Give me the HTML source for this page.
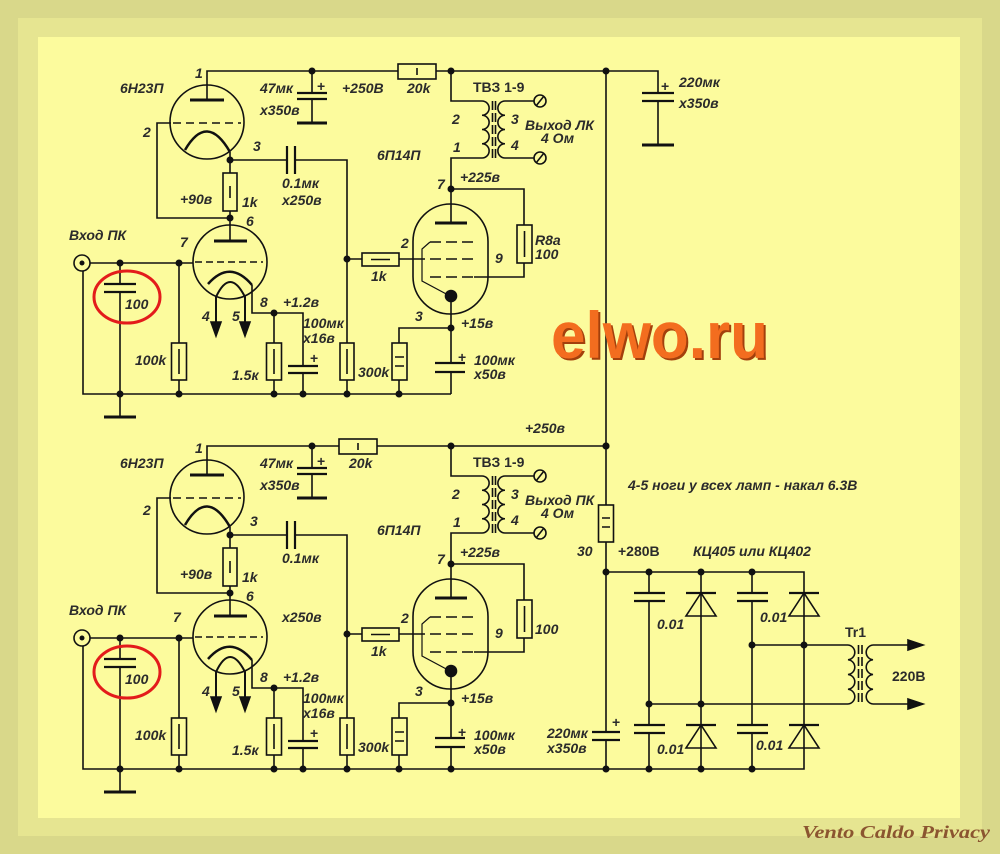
<!DOCTYPE html>
<html><head><meta charset="utf-8">
<style>
html,body{margin:0;padding:0;width:1000px;height:854px;overflow:hidden;background:#d9d88a}
svg{display:block}
text{font-family:"Liberation Sans","DejaVu Sans",sans-serif;font-weight:bold;font-style:italic;font-size:14px;fill:#2b2b2b}
text.u{font-style:normal}
</style></head><body>
<svg width="1000" height="854" viewBox="0 0 1000 854" xmlns="http://www.w3.org/2000/svg">
<rect width="1000" height="854" fill="#d9d88a"/>
<rect x="18" y="18" width="964" height="818" fill="#e6e591"/>
<rect x="38" y="37" width="922" height="781" fill="#fcfb9d"/>
<defs>
<g id="sec" stroke="#111" stroke-width="1.6" fill="none">
 <path d="M207,100 V71 H606"/>
 <path d="M312,71 V93 M312,99 V123"/>
 <path d="M297,93 H327 M297,99 H327" stroke-width="2.2"/>
 <path d="M297,123 H327" stroke-width="3"/>
 <circle cx="207" cy="122" r="37"/>
 <path d="M190,100 H224" stroke-width="3"/>
 <path d="M171,123 H157 V218 H230"/>
 <path d="M173,123 H241" stroke-dasharray="8,5"/>
 <path d="M185,150 Q207,112 230,152" stroke-width="2.5"/>
 <path d="M230,152 V218"/>
 <path d="M230,160 H287 M295,160 H347 V394"/>
 <path d="M287,146 V174 M295,146 V174" stroke-width="2.2"/>
 <rect x="223" y="173" width="14" height="38" fill="#fcfb9d"/>
 <path d="M230,186 V198"/>
 <path d="M230,218 V241"/>
 <circle cx="230" cy="262" r="37"/>
 <path d="M214,241 H247" stroke-width="3"/>
 <path d="M90,263 H193"/>
 <path d="M195,262 H263" stroke-dasharray="7,4"/>
 <path d="M208,284 Q230,259 252,285" stroke-width="2.5"/>
 <path d="M252,285 V313 H303 V366"/>
 <path d="M216,323 V297 Q230,267 245,297 V323" stroke-width="2"/>
 <polygon points="211,322 221,322 216,336" fill="#111"/>
 <polygon points="240,322 250,322 245,336" fill="#111"/>
 <circle cx="82" cy="263" r="8" fill="#fcfb9d"/>
 <circle cx="82" cy="263" r="2.5" fill="#111" stroke="none"/>
 <path d="M83,271 V394 H451"/>
 <path d="M120,263 V284 M120,292 V417"/>
 <path d="M104,284 H136 M104,292 H136" stroke-width="2.2"/>
 <path d="M104,417 H136" stroke-width="3"/>
 <ellipse cx="127" cy="297" rx="33" ry="26" stroke="#e31b1b" stroke-width="3"/>
 <path d="M179,263 V394"/>
 <rect x="171.5" y="343" width="15" height="37" fill="#fcfb9d"/>
 <path d="M179,349 V374"/>
 <path d="M274,313 V394"/>
 <rect x="266.5" y="343" width="15" height="37" fill="#fcfb9d"/>
 <path d="M274,349 V374"/>
 <path d="M303,373 V394"/>
 <path d="M288,366 H318 M288,373 H318" stroke-width="2.2"/>
 <rect x="340" y="343" width="14" height="37" fill="#fcfb9d"/>
 <path d="M347,349 V374"/>
 <path d="M347,259 H425"/>
 <rect x="362" y="253" width="37" height="13" fill="#fcfb9d"/>
 <path d="M371,259.5 H390"/>
 <rect x="413" y="204" width="75" height="110" rx="37.5" ry="37.5"/>
 <path d="M435,223 H467" stroke-width="3"/>
 <path d="M482,158 H451 V223"/>
 <path d="M430,242 H474 M430,259 H474 M430,277 H474" stroke-dasharray="11,5"/>
 <path d="M474,277 H524 V263"/>
 <path d="M450,296 L422,281 V249 L430,242" stroke-width="1.2"/>
 <circle cx="451" cy="296" r="5.5" fill="#111"/>
 <path d="M451,296 V363 M451,372 V394"/>
 <path d="M451,189 H524 V225"/>
 <rect x="517" y="225" width="15" height="38" fill="#fcfb9d"/>
 <path d="M524.5,231 V257"/>
 <path d="M451,328 H399 V394"/>
 <rect x="392" y="343" width="15" height="37" fill="#fcfb9d"/>
 <path d="M395,357 H404 M395,366 H404"/>
 <path d="M435,363 H465 M435,372 H465" stroke-width="2.2"/>
 <path d="M451,71 V101 H482"/>
 <path d="M482,101 a7,7 0 0 1 0,14.25 a7,7 0 0 1 0,14.25 a7,7 0 0 1 0,14.25 a7,7 0 0 1 0,14.25"/>
 <path d="M492.5,101 V158 M495.5,101 V158" stroke-dasharray="9,3"/>
 <path d="M505,101 a7,7 0 0 0 0,14.25 a7,7 0 0 0 0,14.25 a7,7 0 0 0 0,14.25 a7,7 0 0 0 0,14.25"/>
 <path d="M505,101 H534 M505,158 H534"/>
 <circle cx="540" cy="101" r="6" fill="#fcfb9d"/>
 <circle cx="540" cy="158" r="6" fill="#fcfb9d"/>
 <path d="M536,106 L544,96 M536,163 L544,153"/>
 <g fill="#111" stroke="none">
  <circle cx="312" cy="71" r="3.5"/><circle cx="451" cy="71" r="3.5"/><circle cx="606" cy="71" r="3.5"/>
  <circle cx="230" cy="160" r="3.5"/><circle cx="230" cy="218" r="3.5"/>
  <circle cx="120" cy="263" r="3.5"/><circle cx="179" cy="263" r="3.5"/>
  <circle cx="347" cy="259" r="3.5"/><circle cx="274" cy="313" r="3.5"/>
  <circle cx="451" cy="189" r="3.5"/><circle cx="451" cy="328" r="3.5"/>
  <circle cx="120" cy="394" r="3.5"/><circle cx="179" cy="394" r="3.5"/>
  <circle cx="274" cy="394" r="3.5"/><circle cx="303" cy="394" r="3.5"/>
  <circle cx="347" cy="394" r="3.5"/><circle cx="399" cy="394" r="3.5"/>
 </g>
</g>
</defs>
<use href="#sec"/>
<use href="#sec" transform="translate(0,375)"/>

<g stroke="#111" stroke-width="1.6" fill="none">
 <rect x="398" y="64" width="38" height="15" fill="#fcfb9d"/>
 <path d="M417,68 V75"/>
 <rect x="339" y="439" width="38" height="15" fill="#fcfb9d"/>
 <path d="M358,443 V450"/>
 <path d="M606,71 H658 V93 M658,101 V145"/>
 <path d="M642,93 H674 M642,101 H674" stroke-width="2.2"/>
 <path d="M642,145 H674" stroke-width="3"/>
 <path d="M606,71 V732 M606,740 V769"/>
 <path d="M592,732 H620 M592,740 H620" stroke-width="2.2"/>
 <rect x="598.5" y="505" width="15" height="37" fill="#fcfb9d"/>
 <path d="M602,518 H610 M602,527 H610"/>
 <path d="M451,769 H804 V572 H606"/>
 <path d="M649,572 V593 M649,601 V725 M649,733 V769"/>
 <path d="M752,572 V593 M752,601 V725 M752,733 V769"/>
 <path d="M634,593 H665 M634,601 H665 M634,725 H665 M634,733 H665" stroke-width="2.2"/>
 <path d="M737,593 H768 M737,601 H768 M737,725 H768 M737,733 H768" stroke-width="2.2"/>
 <path d="M701,572 V769"/>
 <path d="M701,593 L686,616 H716 Z M701,725 L686,748 H716 Z"/>
 <path d="M804,593 L789,616 H819 Z M804,725 L789,748 H819 Z"/>
 <path d="M686,593 H716 M686,725 H716 M789,593 H819 M789,725 H819" stroke-width="2.2"/>
 <path d="M649,704 H848 M752,645 H848"/>
 <path d="M848,645 a7.4,7.4 0 0 1 0,14.75 a7.4,7.4 0 0 1 0,14.75 a7.4,7.4 0 0 1 0,14.75 a7.4,7.4 0 0 1 0,14.75"/>
 <path d="M858.5,645 V704 M862,645 V704" stroke-dasharray="9,3"/>
 <path d="M873,645 a7.4,7.4 0 0 0 0,14.75 a7.4,7.4 0 0 0 0,14.75 a7.4,7.4 0 0 0 0,14.75 a7.4,7.4 0 0 0 0,14.75"/>
 <path d="M873,645 H912 M873,704 H912"/>
 <polygon points="908,640 923,645 908,650" fill="#111"/>
 <polygon points="908,699 923,704 908,709" fill="#111"/>
 <g fill="#111" stroke="none">
  <circle cx="606" cy="446" r="3.5"/><circle cx="451" cy="769" r="3.5"/>
  <circle cx="606" cy="769" r="3.5"/><circle cx="649" cy="769" r="3.5"/>
  <circle cx="701" cy="769" r="3.5"/><circle cx="752" cy="769" r="3.5"/>
  <circle cx="606" cy="572" r="3.5"/><circle cx="649" cy="572" r="3.5"/>
  <circle cx="701" cy="572" r="3.5"/><circle cx="752" cy="572" r="3.5"/>
  <circle cx="649" cy="704" r="3.5"/><circle cx="701" cy="704" r="3.5"/>
  <circle cx="752" cy="645" r="3.5"/><circle cx="804" cy="645" r="3.5"/>
 </g>
</g>

<g>
<text x="195" y="78">1</text>
<text x="120" y="93">6Н23П</text>
<text x="260" y="93">47мк</text>
<text x="260" y="115">x350в</text>
<text x="317" y="91" class="u">+</text>
<text x="342" y="93">+250В</text>
<text x="407" y="93">20k</text>
<text x="473" y="92" class="u">ТВЗ 1-9</text>
<text x="143" y="137">2</text>
<text x="253" y="151">3</text>
<text x="452" y="124">2</text>
<text x="453" y="152">1</text>
<text x="511" y="124">3</text>
<text x="511" y="150">4</text>
<text x="525" y="130">Выход ЛК</text>
<text x="541" y="143">4 Ом</text>
<text x="377" y="160">6П14П</text>
<text x="282" y="188">0.1мк</text>
<text x="282" y="205">x250в</text>
<text x="180" y="204">+90в</text>
<text x="242" y="207">1k</text>
<text x="460" y="182">+225в</text>
<text x="437" y="189">7</text>
<text x="246" y="226">6</text>
<text x="69" y="240">Вход ПК</text>
<text x="180" y="247">7</text>
<text x="401" y="248">2</text>
<text x="535" y="245">R8a</text>
<text x="535" y="259">100</text>
<text x="495" y="263">9</text>
<text x="371" y="281">1k</text>
<text x="260" y="307">8</text>
<text x="283" y="307">+1.2в</text>
<text x="202" y="321">4</text>
<text x="232" y="321">5</text>
<text x="125" y="309">100</text>
<text x="415" y="321">3</text>
<text x="461" y="328">+15в</text>
<text x="303" y="328">100мк</text>
<text x="303" y="343">x16в</text>
<text x="310" y="363" class="u">+</text>
<text x="474" y="365">100мк</text>
<text x="474" y="379">x50в</text>
<text x="458" y="362" class="u">+</text>
<text x="135" y="365">100k</text>
<text x="232" y="380">1.5к</text>
<text x="358" y="377">300k</text>
<text x="679" y="87">220мк</text>
<text x="679" y="108">x350в</text>
<text x="661" y="91" class="u">+</text>
</g>

<g transform="translate(0,375)">
<text x="195" y="78">1</text>
<text x="120" y="93">6Н23П</text>
<text x="260" y="93">47мк</text>
<text x="260" y="115">x350в</text>
<text x="317" y="91" class="u">+</text>
<text x="349" y="93">20k</text>
<text x="473" y="92" class="u">ТВЗ 1-9</text>
<text x="143" y="140">2</text>
<text x="250" y="151">3</text>
<text x="452" y="124">2</text>
<text x="453" y="152">1</text>
<text x="511" y="124">3</text>
<text x="511" y="150">4</text>
<text x="525" y="130">Выход ПК</text>
<text x="541" y="143">4 Ом</text>
<text x="377" y="160">6П14П</text>
<text x="282" y="188">0.1мк</text>
<text x="282" y="247">x250в</text>
<text x="180" y="204">+90в</text>
<text x="242" y="207">1k</text>
<text x="460" y="182">+225в</text>
<text x="437" y="189">7</text>
<text x="246" y="226">6</text>
<text x="69" y="240">Вход ПК</text>
<text x="173" y="247">7</text>
<text x="401" y="248">2</text>
<text x="535" y="259">100</text>
<text x="495" y="263">9</text>
<text x="371" y="281">1k</text>
<text x="260" y="307">8</text>
<text x="283" y="307">+1.2в</text>
<text x="202" y="321">4</text>
<text x="232" y="321">5</text>
<text x="125" y="309">100</text>
<text x="415" y="321">3</text>
<text x="461" y="328">+15в</text>
<text x="303" y="328">100мк</text>
<text x="303" y="343">x16в</text>
<text x="310" y="363" class="u">+</text>
<text x="474" y="365">100мк</text>
<text x="474" y="379">x50в</text>
<text x="458" y="362" class="u">+</text>
<text x="135" y="365">100k</text>
<text x="232" y="380">1.5к</text>
<text x="358" y="377">300k</text>
</g>

<text x="525" y="433">+250в</text>
<text x="628" y="490">4-5 ноги у всех ламп - накал 6.3В</text>
<text x="577" y="556">30</text>
<text x="618" y="556" class="u">+280В</text>
<text x="693" y="556">КЦ405 или КЦ402</text>
<text x="657" y="629">0.01</text>
<text x="760" y="622">0.01</text>
<text x="657" y="754">0.01</text>
<text x="756" y="750">0.01</text>
<text x="845" y="637" class="u">Tr1</text>
<text x="892" y="681" class="u">220В</text>
<text x="547" y="738">220мк</text>
<text x="547" y="753">x350в</text>
<text x="612" y="727" class="u">+</text>

<text x="553" y="360" textLength="217" lengthAdjust="spacingAndGlyphs" style="font-size:66px;font-style:normal;fill:#a3400c">elwo.ru</text>
<text x="551" y="358" textLength="217" lengthAdjust="spacingAndGlyphs" style="font-size:66px;font-style:normal;fill:#f36d1f">elwo.ru</text>

<text x="802" y="838" textLength="188" lengthAdjust="spacingAndGlyphs" style="font-family:'Liberation Serif',serif;font-size:18px;fill:#8b5530">Vento Caldo Privacy</text>
</svg>
</body></html>
